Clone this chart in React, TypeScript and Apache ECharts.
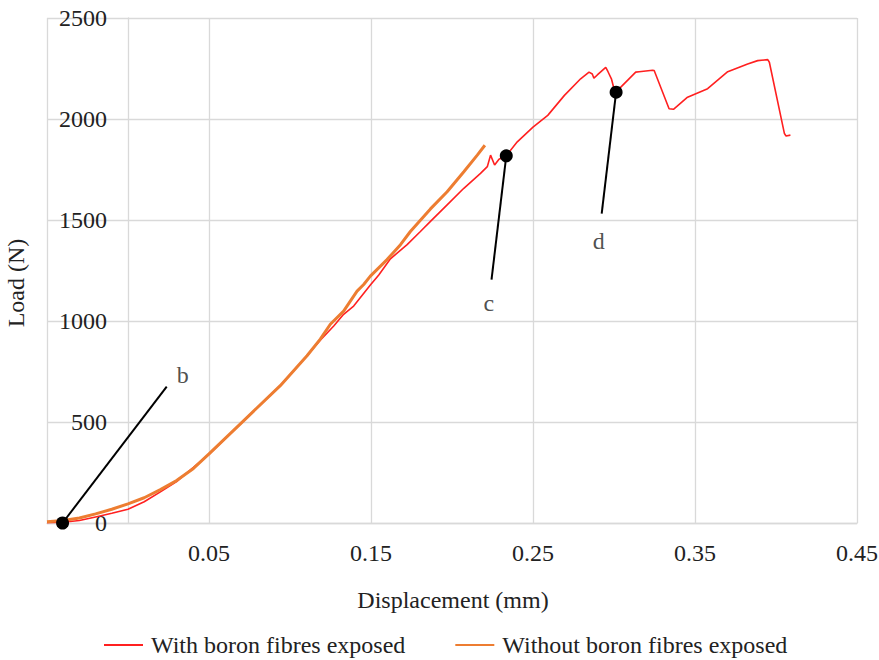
import React, { useEffect, useRef } from 'react';
import * as echarts from 'echarts';

// Displacement (mm), Load (N)
const withBoron: [number, number][] = [
  [-0.05, 2], [-0.04, 4], [-0.03, 12], [-0.02, 30], [-0.01, 48], [0, 68],
  [0.01, 105], [0.02, 154], [0.03, 205], [0.0404, 275], [0.05, 340],
  [0.0734, 522], [0.094, 680], [0.1105, 828], [0.1187, 905], [0.127, 975],
  [0.1331, 1033], [0.1393, 1074], [0.1496, 1178], [0.1548, 1228], [0.162, 1308],
  [0.1723, 1378], [0.1805, 1443], [0.1867, 1493], [0.197, 1575], [0.2073, 1657],
  [0.2176, 1731], [0.2218, 1764], [0.2238, 1821], [0.2263, 1772], [0.229, 1801],
  [0.2335, 1818], [0.2403, 1887], [0.25, 1960], [0.2591, 2018], [0.2694, 2117],
  [0.2794, 2199], [0.2846, 2232], [0.2866, 2223], [0.2876, 2202], [0.2897, 2218],
  [0.2949, 2256], [0.2963, 2234], [0.2984, 2199], [0.3, 2150], [0.3013, 2133],
  [0.3042, 2158], [0.3134, 2232], [0.3155, 2234], [0.3238, 2241], [0.3248, 2240],
  [0.334, 2051], [0.3367, 2048], [0.3454, 2108], [0.3578, 2150], [0.3702, 2234],
  [0.3825, 2272], [0.3887, 2289], [0.3949, 2294], [0.3959, 2281], [0.4052, 1928],
  [0.4062, 1916], [0.4089, 1920],
];

const withoutBoron: [number, number][] = [
  [-0.05, 6], [-0.04, 12], [-0.03, 25], [-0.02, 45], [-0.01, 68], [0, 95],
  [0.01, 125], [0.02, 165], [0.03, 210], [0.0404, 270], [0.05, 342],
  [0.0734, 522], [0.094, 680], [0.1105, 828], [0.1187, 910], [0.1249, 984],
  [0.1331, 1049], [0.1414, 1148], [0.1455, 1181], [0.1496, 1222], [0.1599, 1304],
  [0.1682, 1378], [0.1743, 1443], [0.1867, 1555], [0.197, 1640], [0.2073, 1739],
  [0.2156, 1821], [0.2203, 1870],
];

// annotation points (b, c, d) and their leader-line ends / label positions
const markerPoints: [number, number][] = [[-0.0404, 0], [0.2335, 1818], [0.3013, 2133]];
const leaderEnds: [number, number][] = [[0.0239, 675], [0.2244, 1205], [0.2924, 1532]];
const markerLabels: [number, number, string][] = [
  [0.0338, 734, 'b'], [0.2228, 1090, 'c'], [0.2906, 1394, 'd'],
];

const seriesNames = ['With boron fibres exposed', 'Without boron fibres exposed'];
const xAxisTitle = 'Displacement (mm)';
const yAxisTitle = 'Load (N)';

const FONT = 'Liberation Serif';
const TEXT = '#222222';
const GRID = '#d9d9d9';

export default function App() {
  const ref = useRef<HTMLDivElement>(null);
  useEffect(() => {
    document.body.style.margin = '0';
    const chart = echarts.init(ref.current!, null, { renderer: 'svg' });
    const leaders = markerPoints.map((p, i) => ({
      type: 'line',
      data: [p, leaderEnds[i]],
      showSymbol: false,
      silent: true,
      clip: false,
      lineStyle: { color: '#000', width: 2 },
      itemStyle: { color: '#000' },
      z: 4,
    }));
    chart.setOption({
      animation: false,
      textStyle: { fontFamily: FONT },
      grid: { left: 47, right: 22, top: 18, bottom: 137, containLabel: false, outerBoundsMode: 'none' },
      xAxis: {
        type: 'value',
        min: -0.05,
        max: 0.45,
        interval: 0.1,
        axisLine: { show: true, lineStyle: { color: GRID, width: 1.3 } },
        axisTick: { show: false },
        splitLine: { show: true, lineStyle: { color: GRID, width: 1.3 } },
        axisLabel: {
          fontSize: 24,
          color: TEXT,
          fontFamily: FONT,
          margin: 18,
          formatter: (v: number) => (v < 0 ? '' : v.toFixed(2)),
        },
      },
      yAxis: {
        type: 'value',
        min: 0,
        max: 2500,
        interval: 500,
        axisLine: { show: true, onZero: true, lineStyle: { color: GRID, width: 1.3 } },
        axisTick: { show: false },
        splitLine: { show: true, lineStyle: { color: GRID, width: 1.3 } },
        axisLabel: {
          fontSize: 24,
          color: TEXT,
          fontFamily: FONT,
          margin: -60,
          formatter: (v: number) => String(v),
        },
      },
      legend: {
        data: seriesNames,
        left: 99,
        top: 628,
        icon: 'rect',
        itemWidth: 39,
        itemHeight: 2,
        itemGap: 50,
        textStyle: { fontSize: 24, color: TEXT, fontFamily: FONT, padding: [0, 0, 0, 3] },
      },
      graphic: [
        {
          type: 'text',
          x: 453,
          y: 600,
          style: {
            text: xAxisTitle,
            fontSize: 24,
            fontFamily: FONT,
            fill: TEXT,
            textAlign: 'center',
            textVerticalAlign: 'middle',
          },
        },
        {
          type: 'text',
          x: 16,
          y: 283,
          rotation: Math.PI / 2,
          style: {
            text: yAxisTitle,
            fontSize: 24,
            fontFamily: FONT,
            fill: TEXT,
            textAlign: 'center',
            textVerticalAlign: 'middle',
          },
        },
      ],
      series: [
        {
          name: seriesNames[0],
          type: 'line',
          data: withBoron,
          showSymbol: false,
          color: '#ff2020',
          lineStyle: { color: '#ff2020', width: 1.6 },
          itemStyle: { color: '#ff2020' },
          z: 2,
        },
        {
          name: seriesNames[1],
          type: 'line',
          data: withoutBoron,
          showSymbol: false,
          color: '#ed7d31',
          lineStyle: { color: '#ed7d31', width: 3 },
          itemStyle: { color: '#ed7d31' },
          z: 3,
        },
        ...leaders,
        {
          type: 'scatter',
          data: markerPoints,
          symbol: 'circle',
          symbolSize: 13,
          clip: false,
          itemStyle: { color: '#000', opacity: 1 },
          z: 5,
        },
        {
          type: 'scatter',
          data: markerLabels,
          symbolSize: 1,
          clip: false,
          itemStyle: { color: 'rgba(0,0,0,0)' },
          label: {
            show: true,
            position: 'inside',
            formatter: (p: any) => p.value[2],
            fontSize: 24,
            fontFamily: FONT,
            color: TEXT,
          },
          z: 5,
        },
      ],
    });
    return () => chart.dispose();
  }, []);
  return <div ref={ref} style={{ width: 879, height: 660 }} />;
}
